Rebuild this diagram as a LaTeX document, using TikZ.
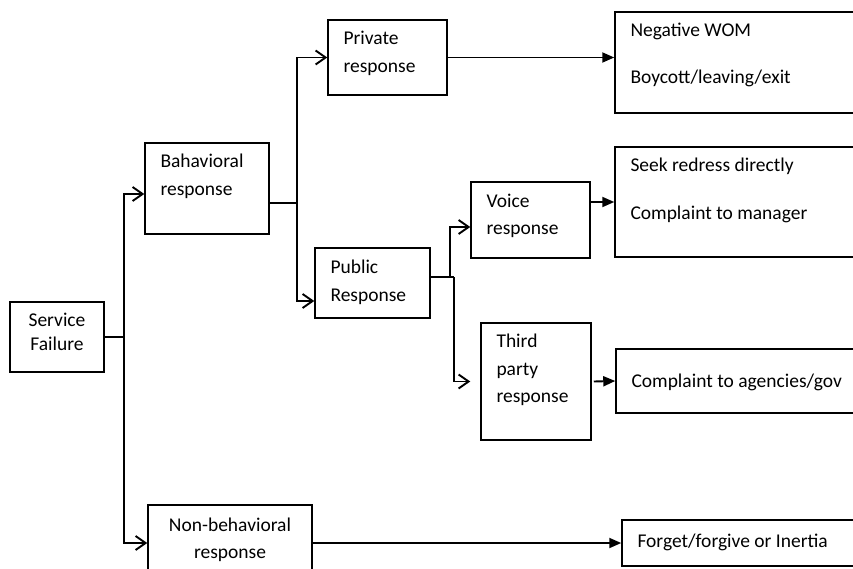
\documentclass[tikz,border=0pt]{standalone}
\usepackage{fontspec}
\setmainfont{Carlito}
\usetikzlibrary{arrows.meta}

% text block inside a box: width, height, first baseline, text
\newcommand{\lbox}[4]{\parbox[c][#2pt][t]{#1pt}{\raggedright\leftskip=15.5pt\rule{0pt}{#3pt}#4}}
\newcommand{\cbox}[4]{\parbox[c][#2pt][t]{#1pt}{\centering\rule{0pt}{#3pt}#4}}

\begin{document}
\begin{tikzpicture}[x=1pt,y=-1pt,
  box/.style={draw, line width=1.5pt, inner sep=0pt, font=\fontsize{19.5}{28}\selectfont},
  link/.style={line width=1.9pt},
  branch/.style={link, -{Straight Barb[length=10pt,width=14pt]}},
  result/.style={link, -{Triangle[length=12pt,width=10pt]}}]
\useasboundingbox (0,0) rectangle (853,569);
\clip (0,0) rectangle (853,569);

% left column
\node[box, font=\fontsize{19.5}{24}\selectfont] (sf) at (57,337) {\cbox{94}{70}{24.5}{Service\\Failure}};
\node[box] (beh) at (207,188.5) {\lbox{124}{91}{25}{Bahavioral\\response}};
\node[box, font=\fontsize{19.5}{27}\selectfont] (nb) at (230,543) {\cbox{164}{76}{26.5}{Non-behavioral\\response}};

% middle columns
\node[box] (priv) at (387.5,57.5) {\lbox{119}{75}{25}{Private\\response}};
\node[box] (pub) at (372.5,283) {\lbox{115}{70}{25}{Public\\Response}};
\node[box] (voice) at (530.5,220) {\lbox{119}{76}{25}{Voice\\response}};
\node[box, font=\fontsize{19.5}{27.5}\selectfont] (third) at (536,381.5) {\lbox{110}{117}{24.5}{Third\\party\\response}};

% outcomes (right edge runs off the page)
\node[box] (neg) at (742.5,62.5) {\lbox{255}{101}{25}{Negative WOM\\[19pt]Boycott/leaving/exit}};
\node[box] (seek) at (742.5,202) {\lbox{255}{110}{24.5}{Seek redress directly\\[20pt]Complaint to manager}};
\node[box] (agen) at (743,381) {\lbox{254}{64}{38.5}{Complaint to agencies/gov}};
\node[box] (forget) at (746,543) {\lbox{248}{46}{27.5}{Forget/forgive or Inertia}};

% junctions
\coordinate (sfj) at (124,337);
\coordinate (bj) at (297,203);
\coordinate (vj) at (450,277);
\coordinate (pj) at (454,277);

% connectors
\draw[link] (sf.east) -- (sfj);
\draw[branch] (sfj) |- ([yshift=-5.5pt]beh.west);
\draw[branch] (sfj) |- (nb.west);
\draw[link] ([yshift=-14.5pt]beh.east) -- (bj);
\draw[branch] (bj) |- (priv.west);
\draw[branch] (bj) |- ([yshift=-18pt]pub.west);
\draw[link] ([yshift=6pt]pub.east) -- (pj);
\draw[branch] (vj) |- ([yshift=-7pt]voice.west);
\draw[branch, shorten >=10pt] (pj) |- (third.west);
\draw[result] (priv.east) -- (priv.east -| neg.west);
\draw[result] ([yshift=18pt]voice.east) -- (seek.west);
\draw[result] ([xshift=2pt]third.east) -- (agen.west);
\draw[result] (nb.east) -- (forget.west);
\end{tikzpicture}
\end{document}
